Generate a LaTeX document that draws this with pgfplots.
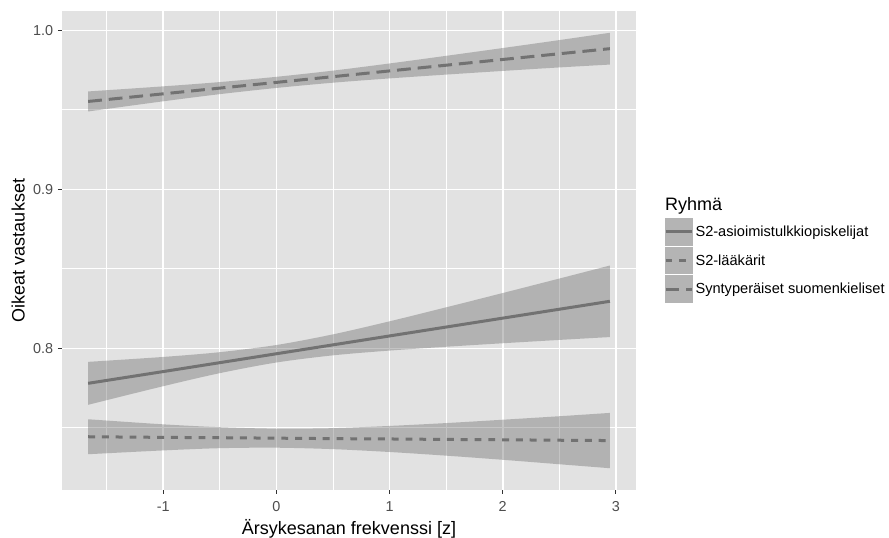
\documentclass[border=0pt]{standalone}
\usepackage{fontspec}
\setmainfont{Liberation Sans}
\usepackage{pgfplots}
\usepackage{pgfplotstable}
\pgfplotsset{compat=1.18}
\usepgfplotslibrary{fillbetween}
\definecolor{panelbg}{HTML}{E2E2E2}
\definecolor{ribbon}{HTML}{6C6C6C}
\definecolor{keyfill}{HTML}{B4B4B4}
\definecolor{linegray}{HTML}{727272}
\definecolor{ticklab}{HTML}{4D4D4D}
\definecolor{tickcol}{HTML}{333333}

\pgfplotstableread{
x y lo hi
-1.664 0.7780 0.7645 0.7915
-1.0 0.7854 0.7762 0.7946
-0.5 0.7910 0.7844 0.7976
0.0 0.7966 0.7911 0.8021
0.5 0.8022 0.7956 0.8088
1.0 0.8078 0.7986 0.8170
1.5 0.8134 0.8010 0.8258
2.0 0.8190 0.8032 0.8348
2.5 0.8246 0.8053 0.8439
2.947 0.8296 0.8071 0.8521
}\tA
\pgfplotstableread{
x y lo hi
-1.664 0.7444 0.7334 0.7554
-1.0 0.7440 0.7358 0.7522
-0.5 0.7438 0.7372 0.7504
0.0 0.7435 0.7375 0.7495
0.5 0.7432 0.7366 0.7498
1.0 0.7430 0.7348 0.7512
1.5 0.7427 0.7325 0.7530
2.0 0.7425 0.7299 0.7551
2.5 0.7422 0.7271 0.7573
2.947 0.7420 0.7246 0.7594
}\tB
\pgfplotstableread{
x y lo hi
-1.664 0.9553 0.9490 0.9616
-1.0 0.9601 0.9554 0.9648
-0.5 0.9637 0.9599 0.9675
0.0 0.9673 0.9638 0.9708
0.5 0.9709 0.9671 0.9747
1.0 0.9745 0.9698 0.9792
1.5 0.9781 0.9722 0.9840
2.0 0.9817 0.9745 0.9889
2.5 0.9853 0.9767 0.9939
2.947 0.9885 0.9785 0.9985
}\tC

\begin{document}
\begin{tikzpicture}
\begin{axis}[
  name=ax,
  scale only axis, width=574pt, height=479pt,
  xmin=-1.895, xmax=3.178, ymin=0.7109, ymax=1.0122,
  axis background/.style={fill=panelbg},
  axis line style={draw=none},
  xtick={-1,0,1,2,3}, xticklabels={-1,0,1,2,3},
  ytick={0.8,0.9,1.0}, yticklabels={0.8,0.9,1.0},
  minor xtick={-1.5,-0.5,0.5,1.5,2.5},
  minor ytick={0.75,0.85,0.95},
  grid=both,
  major grid style={white, line width=1.6pt},
  minor grid style={white, line width=0.8pt},
  tick align=outside, xtick pos=bottom, ytick pos=left,
  major tick length=4pt, minor tick length=0pt,
  major tick style={draw=tickcol, line width=1.2pt},
  minor tick style={draw=none},
  ticklabel style={font=\fontsize{14.4}{17}\selectfont, text=ticklab},
  xticklabel style={anchor=north, inner sep=0pt, yshift=-7pt},
  yticklabel style={anchor=east, inner sep=0pt, xshift=-4.7pt},
  xlabel={Ärsykesanan frekvenssi [z]},
  ylabel={Oikeat vastaukset},
  label style={font=\fontsize{18}{21}\selectfont},
  xlabel style={at={(axis description cs:0.5,0)}, anchor=base, inner sep=0pt, yshift=-45pt},
  ylabel style={at={(axis description cs:0,0.5)}, anchor=center, inner sep=0pt, yshift=43.7pt},
  legend style={at={(rel axis cs:1.0488,0.5678)}, anchor=north west, draw=none, fill=none,
    inner sep=0pt, outer sep=0pt, row sep=0.8pt, column sep=2pt,
    font=\fontsize{14.6}{17}\selectfont, nodes={inner sep=0pt}},
  legend cell align=left,
  legend image code/.code={
    \path[fill=keyfill, draw=none, solid] (0pt,-13.9pt) rectangle (28.7pt,13.9pt);
    \draw[#1] (1pt,0pt) -- (27.5pt,0pt);
  },
]
% ribbons
\addplot[name path=aU, draw=none, smooth, forget plot] table[x=x,y=hi]{\tA};
\addplot[name path=aL, draw=none, smooth, forget plot] table[x=x,y=lo]{\tA};
\addplot[fill=ribbon, fill opacity=0.4, draw=none, forget plot] fill between[of=aU and aL];
\addplot[name path=bU, draw=none, smooth, forget plot] table[x=x,y=hi]{\tB};
\addplot[name path=bL, draw=none, smooth, forget plot] table[x=x,y=lo]{\tB};
\addplot[fill=ribbon, fill opacity=0.4, draw=none, forget plot] fill between[of=bU and bL];
\addplot[name path=cU, draw=none, smooth, forget plot] table[x=x,y=hi]{\tC};
\addplot[name path=cL, draw=none, smooth, forget plot] table[x=x,y=lo]{\tC};
\addplot[fill=ribbon, fill opacity=0.4, draw=none, forget plot] fill between[of=cU and cL];
% lines
\addplot[linegray, line width=3pt, no marks] table[x=x,y=y]{\tA};
\addlegendentry{S2-asioimistulkkiopiskelijat}
\addplot[linegray, line width=3pt, no marks, dash pattern=on 6.9pt off 6.9pt] table[x=x,y=y]{\tB};
\addlegendentry{S2-lääkärit}
\addplot[linegray, line width=3pt, no marks, dash pattern=on 13.8pt off 6.9pt] table[x=x,y=y]{\tC};
\addlegendentry{Syntyperäiset suomenkieliset}
\end{axis}
\path (ax.south west) ++(603pt,279pt) node[anchor=base west, inner sep=0pt, font=\fontsize{18}{21}\selectfont] {Ryhmä};
\pgfresetboundingbox
\path (ax.south west) ++(-62pt,-48pt) rectangle ++(889pt,538pt);
\end{tikzpicture}
\end{document}
